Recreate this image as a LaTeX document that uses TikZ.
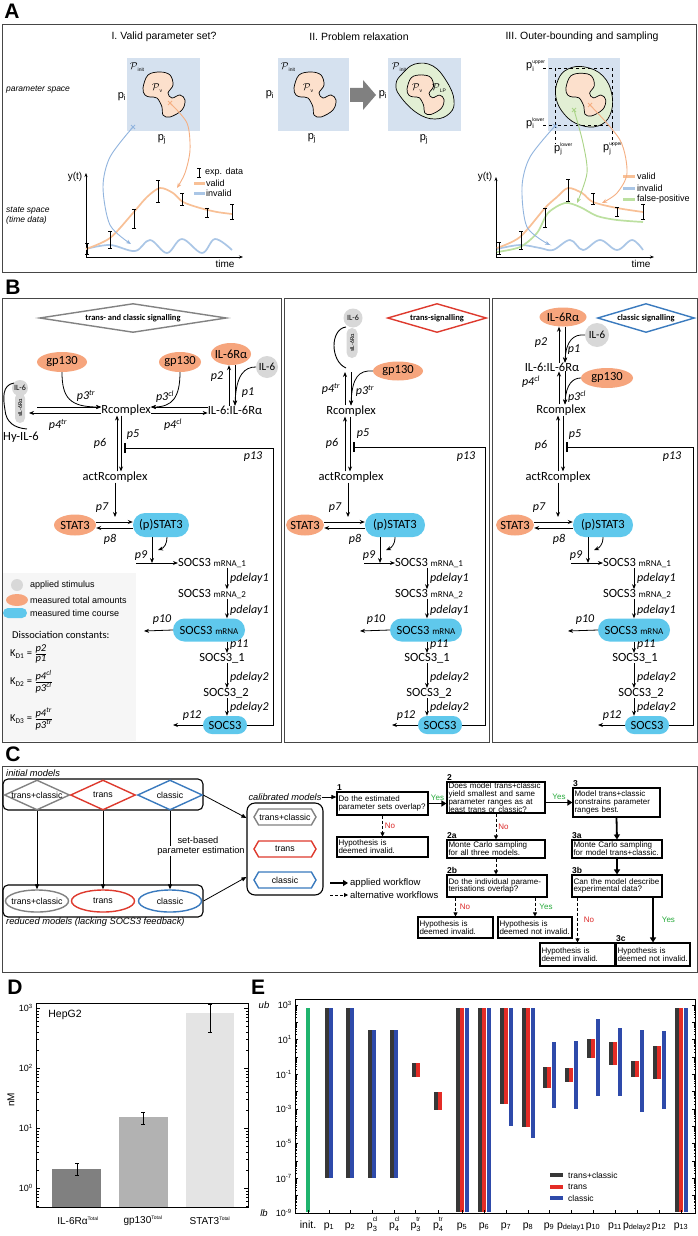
\documentclass[tikz,border=0pt]{standalone}
\usepackage{fontspec}
\setmainfont{Liberation Sans}
\newfontfamily\calib{Carlito}
\usetikzlibrary{arrows.meta,shapes.geometric,shapes.misc,shapes.symbols,calc}
\definecolor{pblue}{RGB}{213,225,239}
\definecolor{orfill}{RGB}{252,224,204}
\definecolor{grfill}{RGB}{226,239,212}
\definecolor{orline}{RGB}{248,192,150}
\definecolor{blline}{RGB}{170,198,230}
\definecolor{grline}{RGB}{188,224,160}
\definecolor{orarr}{RGB}{245,175,130}
\definecolor{blarr}{RGB}{145,180,222}
\definecolor{grarr}{RGB}{170,212,135}
\definecolor{orsp}{RGB}{246,165,125}
\definecolor{blsp}{RGB}{95,200,236}
\definecolor{grsp}{RGB}{216,216,216}
\definecolor{legbg}{RGB}{246,246,246}
\definecolor{dgray}{RGB}{130,130,130}
\definecolor{cred}{RGB}{222,58,46}
\definecolor{cblue}{RGB}{58,122,190}
\definecolor{eblack}{RGB}{55,55,55}
\definecolor{ered}{RGB}{228,44,38}
\definecolor{eblue}{RGB}{46,74,170}
\definecolor{egreen}{RGB}{32,180,110}
\definecolor{dbarA}{RGB}{128,128,128}
\definecolor{dbarB}{RGB}{178,178,178}
\definecolor{dbarC}{RGB}{228,228,228}
\definecolor{yesgreen}{RGB}{40,170,60}
\definecolor{nored}{RGB}{220,40,40}
\definecolor{framec}{RGB}{70,70,70}
\definecolor{bigarr}{RGB}{128,128,128}
\newcommand\Pset[1]{$\mathcal{P}$\raisebox{-1.3pt}{\fontsize{5}{5}\selectfont #1}}
\newcommand\pij[1]{$\mathrm{p}_{\mathrm{#1}}$}
\newcommand\pbd[2]{$\mathrm{p}$\rlap{\raisebox{5pt}{\fontsize{5}{5}\selectfont #2}}\raisebox{-2.5pt}{\fontsize{7}{7}\selectfont $\mathrm{#1}$}}
\newcommand\mrna[1]{{\fontsize{9}{9}\selectfont #1}}
\newcommand\psb[2]{p\rlap{\raisebox{6.5pt}{\fontsize{6.5}{6.5}\selectfont #1}}\raisebox{-3pt}{\fontsize{7.5}{7.5}\selectfont #2}}
\begin{document}
\begin{tikzpicture}[x=1pt,y=-1pt,
 every node/.style={inner sep=0pt},
 panlab/.style={font=\fontsize{21}{21}\selectfont\bfseries},
 frame/.style={draw=framec, line width=0.9pt},
 atitle/.style={font=\fontsize{10.5}{11}\selectfont},
 aital/.style={font=\itshape\fontsize{8.5}{10}\selectfont},
 asm/.style={font=\fontsize{9}{9}\selectfont},
 pnode/.style={font=\fontsize{11}{11}\selectfont},
 Pn/.style={font=\fontsize{10}{10}\selectfont},
 blob/.pic={\draw[fill=orfill, line width=0.7pt] plot[smooth cycle, tension=0.6] coordinates {(-17,-8) (-12,-21) (0,-24) (10,-21) (13,-11) (8,-3) (12,2) (20,-1) (25,4) (22,14) (10,21) (3,19) (2,11) (-3,2) (-10,1) (-15,-1)};},
 ebars/.style={line width=0.6pt},
 aarr/.style={line width=0.9pt, -{Stealth[length=5pt,width=4pt]}},
 axarr/.style={line width=0.6pt, -{Stealth[length=4pt,width=3pt]}},
 bf/.style={font=\calib\fontsize{12.5}{13}\selectfont},
 pl/.style={font=\calib\itshape\fontsize{12}{12}\selectfont},
 orsp/.style={ellipse, fill=orsp, inner xsep=-3pt, bf},
 blsp/.style={rounded rectangle, fill=blsp, bf},
 grsp/.style={circle, fill=grsp},
 ar/.style={-{Stealth[length=5pt,width=4pt]}, line width=0.8pt},
 inh/.style={-{Bar[width=10pt,line width=2.2pt]}, line width=0.8pt},
 dfont/.style={font=\calib\bfseries\fontsize{8.5}{9}\selectfont},
 lgt/.style={font=\fontsize{9}{9}\selectfont},
 cfont/.style={font=\fontsize{8.8}{9}\selectfont},
 cit/.style={font=\itshape\fontsize{9.3}{10}\selectfont},
 cdia/.style={diamond, line width=1.4pt, fill=white, aspect=2.2, minimum width=65pt, minimum height=30pt, cfont},
 cell/.style={ellipse, line width=1.4pt, fill=white, inner xsep=-6pt, minimum width=63pt, minimum height=22pt, cfont},
 hexa/.style={signal, signal to=west and east, signal pointer angle=120, line width=1.4pt, minimum width=62pt, minimum height=16pt, cfont},
 carr/.style={line width=0.8pt, -{Triangle[length=5pt,width=4pt]}},
 fb/.style={draw, line width=1.1pt, align=left, font=\fontsize{8}{7.8}\selectfont, inner xsep=1.5pt},
 num/.style={font=\bfseries\fontsize{8.5}{9}\selectfont, anchor=south west, inner sep=0.5pt},
 thk/.style={line width=1.8pt, -{Triangle[length=5pt,width=6pt]}},
 dsh/.style={line width=0.9pt, dash pattern=on 3pt off 2pt, -{Triangle[length=4pt,width=4pt]}},
 yes/.style={text=yesgreen, font=\fontsize{8}{8}\selectfont},
 no/.style={text=nored, font=\fontsize{8}{8}\selectfont},
 dtick/.style={font=\fontsize{9}{9}\selectfont},
 eb/.style={line width=4pt},
]
\useasboundingbox (0,0) rectangle (698,1236);
\fill[white] (0,0) rectangle (698,1236);

% ===== panel labels
\node[panlab] (labA) at (12,11) {A};
\node[panlab] (labB) at (13,287) {B};
\node[panlab] (labC) at (13,754) {C};
\node[panlab] (labD) at (15,987) {D};
\node[panlab] (labE) at (258,987) {E};

% ===== PANEL A
\draw[frame] (2,24) rectangle (696,272);
\node[atitle] (tI) at (164,37) {I. Valid parameter set?};
\node[atitle] (tII) at (359,37) {II. Problem relaxation};
\node[atitle] (tIII) at (582,37) {III. Outer-bounding and sampling};
\node[aital, anchor=west] (psp) at (6,90) {parameter space};
\node[aital, anchor=west, align=left] (ssp) at (6,216) {state space\\(time data)};

\fill[pblue] (127,58) rectangle (200,131);
\fill[pblue] (278,58) rectangle (349,131);
\fill[pblue] (388,58) rectangle (461,131);
\fill[pblue] (548,58) rectangle (620,131);

% I
\pic at (160,96) {blob};
\node[Pn] (PiI) at (137,67) {\Pset{init}};
\node[Pn] (PvI) at (157,88) {\Pset{v}};
\node[pnode] (piI) at (122,97) {\pij{i}};
\node[pnode] (pjI) at (162,139) {\pij{j}};
% II
\pic at (311,96) {blob};
\node[Pn] (PiII) at (288,67) {\Pset{init}};
\node[Pn] (PvII) at (308,88) {\Pset{v}};
\node[pnode] (piII) at (270,95) {\pij{i}};
\node[pnode] (pjII) at (312,138) {\pij{j}};
\fill[bigarr] (350,88) -- (363,88) -- (363,80) -- (376,95) -- (363,110) -- (363,102) -- (350,102) -- cycle;
\draw[fill=grfill, line width=0.7pt] plot[smooth cycle, tension=0.7] coordinates {(402,74) (415,64) (433,66) (447,82) (454,100) (450,113) (435,119) (417,113) (400,96) (396,84)};
\pic[scale=0.88] at (422,96) {blob};
\node[Pn] (PiIIb) at (399,67) {\Pset{init}};
\node[Pn] (PvIIb) at (417,88) {\Pset{v}};
\node[Pn] (PlpIIb) at (439,88) {\Pset{LP}};
\node[pnode] (piIIb) at (383,95) {\pij{i}};
\node[pnode] (pjIIb) at (424,139) {\pij{j}};
% III
\draw[fill=grfill, line width=0.7pt] plot[smooth cycle, tension=0.7] coordinates {(558,80) (568,69) (585,67) (603,76) (612,95) (610,115) (598,126) (580,125) (565,115) (556,98)};
\pic[scale=0.95] at (582,96) {blob};
\draw[dashed, line width=0.7pt] (555,68) rectangle (612,125);
\draw[dashed, line width=0.7pt] (543,68) -- (555,68) (543,125) -- (555,125) (555,125) -- (555,144) (612,125) -- (612,144);
\node[pnode] (puI) at (530,66) {\pbd{i}{upper}};
\node[pnode] (plI) at (530,123) {\pbd{i}{lower}};
\node[pnode] (plJ) at (558,149) {\pbd{j}{lower}};
\node[pnode] (puJ) at (607,149) {\pbd{j}{upper}};

% time plot I
\draw[axarr] (86,257) -- (86,173);
\draw[axarr] (86,257) -- (243,257);
\node[font=\fontsize{10}{10}\selectfont] (ytI) at (75,177) {y(t)};
\node[font=\fontsize{10}{10}\selectfont] (tmI) at (225,264) {time};
\draw[blline, line width=1.7pt] plot[smooth, tension=0.6] coordinates {(86,249) (110,245) (135,251) (150,240) (167,253) (182,239) (202,253) (215,239) (232,250)};
\draw[orline, line width=1.7pt] plot[smooth] coordinates {(86,249) (110,238) (133,213) (147,197) (160,188) (173,193) (183,202) (200,208) (217,212) (232,214)};
\foreach \x/\a/\b in {87/243/254,110/231/248,134/209/228,158/180/202,182/193/205,207/208/217,232/204/219}
 {\draw[ebars] (\x,\a) -- (\x,\b) (\x-2,\a) -- (\x+2,\a) (\x-2,\b) -- (\x+2,\b);}
\draw[ebars] (199,168) -- (199,177) (197,168) -- (201,168) (197,177) -- (201,177);
\node[asm, anchor=west] (lgI1) at (205,172) {exp. data};
\draw[orline, line width=3pt] (194,183) -- (205,183);
\node[asm, anchor=west] (lgI2) at (206,183) {valid};
\draw[blline, line width=3pt] (194,193) -- (205,193);
\node[asm, anchor=west] (lgI3) at (206,193) {invalid};
\draw[aarr, blarr] plot[smooth] coordinates {(133,127) (110,157) (103,187) (110,225) (131,244)};
\draw[aarr, orarr] plot[smooth] coordinates {(170,103) (187,123) (190,150) (185,173) (177,188)};
\draw[blarr, line width=0.9pt] (131,125) -- (135,129) (131,129) -- (135,125);
\draw[orarr, line width=0.9pt] (168,101) -- (172,105) (168,105) -- (172,101);

% time plot III
\draw[axarr] (496,257) -- (496,177);
\draw[axarr] (496,257) -- (654,257);
\node[font=\fontsize{10}{10}\selectfont] (ytIII) at (485,177) {y(t)};
\node[font=\fontsize{10}{10}\selectfont] (tmIII) at (641,264) {time};
\draw[blline, line width=1.7pt] plot[smooth, tension=0.6] coordinates {(497,249) (520,245) (540,248) (553,250) (570,240) (583,250) (600,240) (617,250) (632,240) (643,250)};
\draw[grline, line width=1.7pt] plot[smooth] coordinates {(497,252) (520,247) (537,233) (548,213) (565,203) (580,207) (597,216) (617,220) (643,222)};
\draw[orline, line width=1.7pt] plot[smooth] coordinates {(497,248) (520,237) (545,208) (557,197) (568,188) (582,193) (593,202) (617,208) (643,212)};
\foreach \x/\a/\b in {499/242/254,521/231/249,545/208/227,568/179/201,593/193/204,617/207/216,643/204/219}
 {\draw[ebars] (\x,\a) -- (\x,\b) (\x-2,\a) -- (\x+2,\a) (\x-2,\b) -- (\x+2,\b);}
\draw[orline, line width=3pt] (623,176) -- (635,176);
\node[asm, anchor=west] (lgIII1) at (637,176) {valid};
\draw[blline, line width=3pt] (623,188) -- (635,188);
\node[asm, anchor=west] (lgIII2) at (637,188) {invalid};
\draw[grline, line width=3pt] (623,199) -- (635,199);
\node[asm, anchor=west] (lgIII3) at (637,199) {false-positive};
\draw[aarr, blarr] plot[smooth] coordinates {(555,126) (530,157) (522,187) (527,227) (550,245)};
\draw[aarr, grarr] plot[smooth] coordinates {(574,110) (583,143) (587,173) (577,203)};
\draw[aarr, orarr] plot[smooth] coordinates {(590,105) (620,140) (627,173) (617,193) (602,203)};
\draw[blarr, line width=0.9pt] (553,124) -- (557,128) (553,128) -- (557,124);
\draw[grarr, line width=0.9pt] (572,108) -- (576,112) (572,112) -- (576,108);
\draw[orarr, line width=0.9pt] (588,103) -- (592,107) (588,107) -- (592,103);

% ===== PANEL B frames
\fill[legbg] (3,573) rectangle (136,741);
\draw[frame] (2,298) rectangle (281,742);
\draw[frame] (284,298) rectangle (489,742);
\draw[frame] (492,298) rectangle (697,742);

% ---- box 1
\node[diamond, draw=dgray, line width=1.4pt, aspect=6, minimum width=187pt, minimum height=29pt, dfont] (dg1) at (133,318) {trans- and classic signalling};
\node[orsp, minimum width=50pt, minimum height=20pt] (g1a) at (62,362) {gp130};
\node[orsp, minimum width=42pt, minimum height=20pt] (g1b) at (180,362) {gp130};
\node[orsp, minimum width=40pt, minimum height=22pt] (ra1) at (231,354) {IL-6Rα};
\node[grsp, minimum size=22pt, font=\calib\fontsize{11}{11}\selectfont] (il1) at (267,367) {IL-6};
\node[grsp, minimum size=16pt, font=\calib\fontsize{8}{8}\selectfont] (il1s) at (20,388) {IL-6};
\node[rounded rectangle, fill=grsp, rotate=90, minimum width=30pt, minimum height=10pt, font=\calib\fontsize{6}{6}\selectfont] (sil1) at (20,408) {sIL-6Rα};
\node[bf] (hy1) at (21,437) {Hy-IL-6};
\draw[line width=0.9pt] (14,383) .. controls (2,385) and (3,398) .. (5,410) .. controls (6,422) and (14,428) .. (27,429);
\node[bf] (R1) at (126,410) {Rcomplex};
\coordinate (hyR) at (37,410);
\coordinate (hyRb) at (29,410);
\draw[ar] ([yshift=3pt]hyR) -- ([yshift=3pt]R1.west);
\draw[ar] ([yshift=-3pt]R1.west) -- ([yshift=-3pt]hyRb);
\draw[ar] (g1a.south) .. controls (62,398) and (70,407) .. ([yshift=3pt]R1.west);
\node[bf] (C1) at (235,410) {IL-6:IL-6Rα};
\draw[ar] ([yshift=3pt]C1.west) -- ([yshift=3pt]R1.east);
\draw[ar] ([yshift=-3pt]R1.east) -- ([yshift=-3pt]C1.west);
\draw[ar] (g1b.south) .. controls (180,398) and (172,407) .. ([yshift=3pt]R1.east);
\coordinate (x2a) at (229,0); \coordinate (x1a) at (235,0);
\draw[ar] (C1.north -| x2a) -- (ra1.south -| x2a);
\draw[ar] (ra1.south -| x1a) -- (C1.north -| x1a);
\draw[ar] (il1.west) .. controls (245,367) and (236,374) .. (C1.north -| x1a);
\node[pl] (lp2a) at (217,377) {p2};
\node[pl] (lp1a) at (248,393) {p1};
\node[pl] (lp3ta) at (86,396) {p3\textsuperscript{tr}};
\node[pl] (lp4ta) at (58,425) {p4\textsuperscript{tr}};
\node[pl] (lp3ca) at (165,397) {p3\textsuperscript{cl}};
\node[pl] (lp4ca) at (173,425) {p4\textsuperscript{cl}};
\node[bf] (A1) at (115,477) {actRcomplex};
\coordinate (x6a) at (117,0); \coordinate (x5a) at (121,0);
\draw[ar] (A1.north -| x6a) -- (R1.south -| x6a);
\draw[ar] (R1.south -| x5a) -- (A1.north -| x5a);
\node[pl] (lp6a) at (100,443) {p6};
\node[pl] (lp5a) at (133,435) {p5};
\node[pl] (lp13a) at (253,457) {p13};
\coordinate (j7a) at (115,517);
\draw[ar] (A1.south) -- (j7a);
\node[orsp, minimum width=42pt, minimum height=21pt] (st1) at (75,525) {STAT3};
\node[blsp, minimum width=56pt, minimum height=24pt] (ps1) at (161,525) {(p)STAT3};
\draw[ar] ([yshift=3pt]st1.east) -- ([yshift=3pt]ps1.west);
\draw[ar] ([yshift=-3pt]ps1.west) -- ([yshift=-3pt]st1.east);
\node[pl] (lp7a) at (102,508) {p7};
\node[pl] (lp8a) at (110,539) {p8};
\coordinate (c9a) at (152,563);
\draw[ar] (ps1.south -| c9a) -- (c9a);
\coordinate (c9b) at (158,550);
\draw[ar] ([xshift=6pt]ps1.south) .. controls (167,544) and (164,548) .. (c9b);
\node[bf] (m1a) at (212,563) {SOCS3 \mrna{mRNA\_1}};
\coordinate (c9l) at (136,563);
\draw[ar] (c9l) -- (m1a.west);
\node[pl] (lp9a) at (141,556) {p9};
\coordinate (xca) at (227,0);
\node[bf] (m2a) at (212,594) {SOCS3 \mrna{mRNA\_2}};
\node[blsp, minimum width=72pt, minimum height=23pt] (mba) at (209,630) {SOCS3 \mrna{mRNA}};
\node[bf] (s31a) at (222,658) {SOCS3\_1};
\node[bf] (s32a) at (226,693) {SOCS3\_2};
\node[blsp, minimum width=44pt, minimum height=18pt] (s3a) at (225,725) {SOCS3};
\draw[ar] (m1a.south -| xca) -- (m2a.north -| xca);
\draw[ar] (m2a.south -| xca) -- (mba.north -| xca);
\draw[ar] (mba.south -| xca) -- (s31a.north -| xca);
\draw[ar] (s31a.south -| xca) -- (s32a.north -| xca);
\draw[ar] (s32a.south -| xca) -- (s3a.north -| xca);
\node[pl, anchor=west] (ld1a) at (230,578) {pdelay1};
\node[pl, anchor=west] (ld2a) at (230,610) {pdelay1};
\node[pl, anchor=west] (lp11a) at (230,645) {p11};
\node[pl, anchor=west] (ld3a) at (230,677) {pdelay2};
\node[pl, anchor=west] (ld4a) at (230,707) {pdelay2};
\coordinate (e10a) at (144,631);
\draw[ar] (mba.west) -- (e10a);
\node[pl] (lp10a) at (162,620) {p10};
\coordinate (e12a) at (173,725);
\draw[ar] (s3a.west) -- (e12a);
\node[pl] (lp12a) at (192,716) {p12};
\coordinate (inh1) at (124,448); \coordinate (fb1) at (273,448);
\draw[inh] (s3a.east) -| (fb1) -- (inh1);
% legend
\node[grsp, minimum size=12pt] (lg1) at (17,585) {};
\node[ellipse, fill=orsp, minimum width=22pt, minimum height=12pt] (lg2) at (17,600) {};
\node[rounded rectangle, fill=blsp, minimum width=24pt, minimum height=10pt] (lg3) at (15,613) {};
\node[lgt, anchor=west] (lgt1) at (30,585) {applied stimulus};
\node[lgt, anchor=west] (lgt2) at (30,600) {measured total amounts};
\node[lgt, anchor=west] (lgt3) at (30,613) {measured time course};
\node[anchor=west, font=\calib\fontsize{10.5}{11}\selectfont] (dcons) at (12,635) {Dissociation constants:};
\node[anchor=west, font=\calib\fontsize{10.5}{11}\selectfont] (kd1) at (10,654) {K\textsubscript{D1} = $\frac{\textit{p2}}{\textit{p1}}$};
\node[anchor=west, font=\calib\fontsize{10.5}{11}\selectfont] (kd2) at (10,682) {K\textsubscript{D2} = $\frac{\textit{p4\textsuperscript{cl}}}{\textit{p3\textsuperscript{cl}}}$};
\node[anchor=west, font=\calib\fontsize{10.5}{11}\selectfont] (kd3) at (10,719) {K\textsubscript{D3} = $\frac{\textit{p4\textsuperscript{tr}}}{\textit{p3\textsuperscript{tr}}}$};

% ---- box 2
\node[diamond, draw=cred, line width=1.4pt, aspect=3.5, minimum width=99pt, minimum height=29pt, dfont] (dg2) at (437,318) {trans-signalling};
\node[grsp, minimum size=19pt, font=\calib\fontsize{8}{8}\selectfont] (il2) at (353,318) {IL-6};
\node[rounded rectangle, fill=grsp, rotate=90, minimum width=30pt, minimum height=11pt, font=\calib\fontsize{6}{6}\selectfont] (sil2) at (352,343) {sIL-6Rα};
\draw[line width=0.9pt] (346,327) .. controls (330,329) and (330,361) .. (346,368);
\node[orsp, minimum width=50pt, minimum height=19pt] (g2) at (398,371) {gp130};
\node[bf] (R2) at (351,411) {Rcomplex};
\coordinate (t2) at (345,372);
\coordinate (x4b) at (345,0); \coordinate (x3b) at (351,0);
\draw[ar] (R2.north -| x4b) -- (t2);
\draw[ar] (t2 -| x3b) -- (R2.north -| x3b);
\draw[ar] (g2.west) .. controls (359,370) and (352,377) .. (R2.north -| x3b);
\node[pl] (lp4tb) at (331,389) {p4\textsuperscript{tr}};
\node[pl] (lp3tb) at (365,391) {p3\textsuperscript{tr}};
\node[bf] (A2) at (351,477) {actRcomplex};
\coordinate (x6b) at (345,0); \coordinate (x5b) at (350,0);
\draw[ar] (A2.north -| x6b) -- (R2.south -| x6b);
\draw[ar] (R2.south -| x5b) -- (A2.north -| x5b);
\node[pl] (lp6b) at (332,443) {p6};
\node[pl] (lp5b) at (363,434) {p5};
\node[pl] (lp13b) at (466,457) {p13};
\coordinate (j7b) at (348,517);
\draw[ar] (A2.south -| j7b) -- (j7b);
\node[orsp, minimum width=38pt, minimum height=21pt] (st2) at (305,525) {STAT3};
\node[blsp, minimum width=60pt, minimum height=24pt] (ps2) at (395,525) {(p)STAT3};
\draw[ar] ([yshift=3pt]st2.east) -- ([yshift=3pt]ps2.west);
\draw[ar] ([yshift=-3pt]ps2.west) -- ([yshift=-3pt]st2.east);
\node[pl] (lp7b) at (335,508) {p7};
\node[pl] (lp8b) at (355,539) {p8};
\coordinate (c9ab) at (380,563);
\draw[ar] (ps2.south -| c9ab) -- (c9ab);
\coordinate (c9bb) at (386,550);
\draw[ar] (ps2.south) .. controls (395,545) and (391,548) .. (c9bb);
\node[bf] (m1b) at (429,563) {SOCS3 \mrna{mRNA\_1}};
\coordinate (c9lb) at (364,563);
\draw[ar] (c9lb) -- (m1b.west);
\node[pl] (lp9b) at (369,556) {p9};
\coordinate (xcb) at (427,0);
\node[bf] (m2b) at (429,594) {SOCS3 \mrna{mRNA\_2}};
\node[blsp, minimum width=72pt, minimum height=23pt] (mbb) at (426,630) {SOCS3 \mrna{mRNA}};
\node[bf] (s31b) at (427,658) {SOCS3\_1};
\node[bf] (s32b) at (429,693) {SOCS3\_2};
\node[blsp, minimum width=44pt, minimum height=18pt] (s3b) at (440,725) {SOCS3};
\draw[ar] (m1b.south -| xcb) -- (m2b.north -| xcb);
\draw[ar] (m2b.south -| xcb) -- (mbb.north -| xcb);
\draw[ar] (mbb.south -| xcb) -- (s31b.north -| xcb);
\draw[ar] (s31b.south -| xcb) -- (s32b.north -| xcb);
\draw[ar] (s32b.south -| xcb) -- (s3b.north -| xcb);
\node[pl, anchor=west] (ld1b) at (430,578) {pdelay1};
\node[pl, anchor=west] (ld2b) at (430,610) {pdelay1};
\node[pl, anchor=west] (lp11b) at (430,645) {p11};
\node[pl, anchor=west] (ld3b) at (430,677) {pdelay2};
\node[pl, anchor=west] (ld4b) at (430,707) {pdelay2};
\coordinate (e10b) at (360,631);
\draw[ar] (mbb.west) -- (e10b);
\node[pl] (lp10b) at (376,620) {p10};
\coordinate (e12b) at (392,725);
\draw[ar] (s3b.west) -- (e12b);
\node[pl] (lp12b) at (406,716) {p12};
\coordinate (inh2) at (353,447); \coordinate (fb2) at (485,447);
\draw[inh] (s3b.east) -| (fb2) -- (inh2);

% ---- box 3
\node[diamond, draw=cblue, line width=1.4pt, aspect=3.5, minimum width=97pt, minimum height=29pt, dfont] (dg3) at (646,318) {classic signalling};
\node[orsp, minimum width=47pt, minimum height=19pt] (ra3) at (563,317) {IL-6Rα};
\node[grsp, minimum size=24pt, font=\calib\fontsize{11}{11}\selectfont] (il3) at (597,335) {IL-6};
\node[bf] (C3) at (552,367) {IL-6:IL-6Rα};
\coordinate (x2c) at (559,0); \coordinate (x1c) at (565,0);
\draw[ar] (C3.north -| x2c) -- (ra3.south -| x2c);
\draw[ar] (ra3.south -| x1c) -- (C3.north -| x1c);
\draw[ar] (il3.west) .. controls (574,334) and (566,340) .. (C3.north -| x1c);
\node[pl] (lp2c) at (541,343) {p2};
\node[pl] (lp1c) at (574,350) {p1};
\node[orsp, minimum width=52pt, minimum height=20pt] (g3) at (607,378) {gp130};
\node[bf] (R3) at (561,410) {Rcomplex};
\draw[ar] (R3.north -| x2c) -- (C3.south -| x2c);
\draw[ar] (C3.south -| x1c) -- (R3.north -| x1c);
\draw[ar] (g3.west) .. controls (573,378) and (566,384) .. (R3.north -| x1c);
\node[pl] (lp4cc) at (531,382) {p4\textsuperscript{cl}};
\node[pl] (lp3cc) at (577,397) {p3\textsuperscript{cl}};
\node[bf] (A3) at (558,477) {actRcomplex};
\coordinate (x6c) at (558,0); \coordinate (x5c) at (563,0);
\draw[ar] (A3.north -| x6c) -- (R3.south -| x6c);
\draw[ar] (R3.south -| x5c) -- (A3.north -| x5c);
\node[pl] (lp6c) at (541,445) {p6};
\node[pl] (lp5c) at (575,435) {p5};
\node[pl] (lp13c) at (672,457) {p13};
\coordinate (j7c) at (558,517);
\draw[ar] (A3.south -| j7c) -- (j7c);
\node[orsp, minimum width=38pt, minimum height=21pt] (st3) at (515,525) {STAT3};
\node[blsp, minimum width=60pt, minimum height=24pt] (ps3) at (603,525) {(p)STAT3};
\draw[ar] ([yshift=3pt]st3.east) -- ([yshift=3pt]ps3.west);
\draw[ar] ([yshift=-3pt]ps3.west) -- ([yshift=-3pt]st3.east);
\node[pl] (lp7c) at (539,508) {p7};
\node[pl] (lp8c) at (559,539) {p8};
\coordinate (c9ac) at (588,563);
\draw[ar] (ps3.south -| c9ac) -- (c9ac);
\coordinate (c9bc) at (594,550);
\draw[ar] (ps3.south) .. controls (603,545) and (599,548) .. (c9bc);
\node[bf] (m1c) at (637,563) {SOCS3 \mrna{mRNA\_1}};
\coordinate (c9lc) at (571,563);
\draw[ar] (c9lc) -- (m1c.west);
\node[pl] (lp9c) at (576,556) {p9};
\coordinate (xcc) at (634,0);
\node[bf] (m2c) at (637,594) {SOCS3 \mrna{mRNA\_2}};
\node[blsp, minimum width=72pt, minimum height=23pt] (mbc) at (634,630) {SOCS3 \mrna{mRNA}};
\node[bf] (s31c) at (635,658) {SOCS3\_1};
\node[bf] (s32c) at (641,693) {SOCS3\_2};
\node[blsp, minimum width=44pt, minimum height=18pt] (s3c) at (647,725) {SOCS3};
\draw[ar] (m1c.south -| xcc) -- (m2c.north -| xcc);
\draw[ar] (m2c.south -| xcc) -- (mbc.north -| xcc);
\draw[ar] (mbc.south -| xcc) -- (s31c.north -| xcc);
\draw[ar] (s31c.south -| xcc) -- (s32c.north -| xcc);
\draw[ar] (s32c.south -| xcc) -- (s3c.north -| xcc);
\node[pl, anchor=west] (ld1c) at (637,578) {pdelay1};
\node[pl, anchor=west] (ld2c) at (637,610) {pdelay1};
\node[pl, anchor=west] (lp11c) at (637,645) {p11};
\node[pl, anchor=west] (ld3c) at (637,677) {pdelay2};
\node[pl, anchor=west] (ld4c) at (637,707) {pdelay2};
\coordinate (e10c) at (568,631);
\draw[ar] (mbc.west) -- (e10c);
\node[pl] (lp10c) at (585,620) {p10};
\coordinate (e12c) at (598,725);
\draw[ar] (s3c.west) -- (e12c);
\node[pl] (lp12c) at (612,716) {p12};
\coordinate (inh3) at (566,447); \coordinate (fb3) at (693,447);
\draw[inh] (s3c.east) -| (fb3) -- (inh3);

% ===== PANEL C
\draw[frame] (2,766) rectangle (697,972);
\node[cit, anchor=west] (lim) at (6,773) {initial models};
\node[draw, line width=1.1pt, rounded corners=5pt, minimum width=200pt, minimum height=31pt] (imbox) at (103,794.5) {};
\node[draw, line width=1.1pt, rounded corners=5pt, minimum width=200pt, minimum height=32pt] (rmbox) at (103,901) {};
\node[cdia, draw=dgray] (dTC) at (37,795) {trans+classic};
\node[cdia, draw=cred] (dT) at (103,795) {trans};
\node[cdia, draw=cblue] (dC) at (170,795) {classic};
\node[cell, draw=dgray] (eTC) at (37,901) {trans+classic};
\node[cell, draw=cred] (eT) at (103,901) {trans};
\node[cell, draw=cblue] (eC) at (170,901) {classic};
\draw[carr] (dTC.south) -- (eTC.north);
\draw[carr] (dT.south) -- (eT.north);
\draw[carr] (dC.south) -- (eC.north);
\node[font=\fontsize{9.3}{10}\selectfont] (sb1) at (198,840) {set-based};
\node[font=\fontsize{9.3}{10}\selectfont, fill=white, inner ysep=1pt] (sb2) at (201,851) {parameter estimation};
\node[cit, anchor=west] (lrm) at (6,922) {reduced models (lacking SOCS3 feedback)};
\node[cit] (lcal) at (285,797) {calibrated models};
\node[draw, line width=1.1pt, rounded corners=8pt, minimum width=76pt, minimum height=92pt] (cal) at (285,849) {};
\node[hexa, draw=dgray] (hTC) at (285,817) {trans+classic};
\node[hexa, draw=cred] (hT) at (285,849) {trans};
\node[hexa, draw=cblue] (hC) at (285,880) {classic};
\draw[carr] (dC.east) -- ([yshift=31pt]cal.west);
\draw[carr] (rmbox.east) -- ([yshift=-28pt]cal.west);
% flowchart
\node[fb, text width=88pt, minimum height=23pt] (b1) at (382.5,803.5) {Do the estimated\\parameter sets overlap?};
\node[fb, text width=88pt, minimum height=20pt] (b1n) at (382.5,847) {Hypothesis is\\deemed invalid.};
\node[fb, text width=95pt, minimum height=31pt] (b2) at (496,797.5) {Does model trans+classic\\yield smallest and same\\parameter ranges as at\\least trans or classic?};
\node[fb, text width=95pt, minimum height=18pt] (b2a) at (496,849) {Monte Carlo sampling\\for all three models.};
\node[fb, text width=97pt, minimum height=22pt] (b2b) at (497,886) {Do the individual parame-\\terisations overlap?};
\node[fb, text width=84pt, minimum height=29pt] (b3) at (616.5,802.5) {Model trans+classic\\constrains parameter\\ranges best.};
\node[fb, text width=87pt, minimum height=18pt] (b3a) at (617,849) {Monte Carlo sampling\\for model trans+classic.};
\node[fb, text width=87pt, minimum height=22pt] (b3b) at (617,886) {Can the model describe\\experimental data?};
\node[fb, text width=72pt, minimum height=21pt] (b2bn) at (455.5,927.5) {Hypothesis is\\deemed invalid.};
\node[fb, text width=71pt, minimum height=21pt] (b2by) at (535,927.5) {Hypothesis is\\deemed not invalid.};
\node[fb, text width=72pt, minimum height=23pt] (b3bn) at (577.5,954.5) {Hypothesis is\\deemed invalid.};
\node[fb, text width=71pt, minimum height=23pt] (b3c) at (653,954.5) {Hypothesis is\\deemed not invalid.};
\node[num] (n1) at (b1.north west) {1};
\node[num] (n2) at (b2.north west) {2};
\node[num] (n3) at (b3.north west) {3};
\node[num] (n2a) at (b2a.north west) {2a};
\node[num] (n2b) at (b2b.north west) {2b};
\node[num] (n3a) at (b3a.north west) {3a};
\node[num] (n3b) at (b3b.north west) {3b};
\node[num] (n3c) at (b3c.north west) {3c};
\coordinate (b2e) at ([yshift=-5pt]b2.east);
\draw[carr] (lcal.east) -- (b1.west |- lcal.east);
\draw[thk] (b1.east) -- (b2.west |- b1.east) node[midway, above=2pt, yes] {Yes};
\draw[thk] (b2e) -- (b3.west |- b2e) node[midway, above=2pt, yes] {Yes};
\draw[dsh] (b1.south) -- (b1n.north) node[midway, right=2pt, no] {No};
\draw[dsh] (b2.south) -- (b2a.north) node[midway, right=2pt, no] {No};
\draw[dsh] (b2a.south) -- (b2b.north -| b2a.south);
\draw[thk] (b3.south) -- (b3a.north);
\draw[thk] (b3a.south) -- (b3b.north);
\draw[dsh] (b2b.south -| b2bn.north) -- (b2bn.north) node[midway, right=4pt, no] {No};
\draw[dsh] (b2b.south -| b2by.north) -- (b2by.north) node[midway, right=4pt, yes] {Yes};
\draw[dsh] (b3b.south -| b3bn.north) -- (b3bn.north) node[midway, right=6pt, no] {No};
\draw[thk] (b3b.south -| b3c.north) -- (b3c.north) node[midway, right=8pt, yes] {Yes};
\coordinate (lw1a) at (330,883); \coordinate (lw1b) at (348,883);
\coordinate (lw2a) at (330,895); \coordinate (lw2b) at (348,895);
\draw[thk] (lw1a) -- (lw1b);
\draw[dsh] (lw2a) -- (lw2b);
\node[anchor=west, font=\fontsize{9.5}{10}\selectfont] (lwt1) at (350,883) {applied workflow};
\node[anchor=west, font=\fontsize{9.5}{10}\selectfont] (lwt2) at (350,895) {alternative workflows};

% ===== PANEL D
\fill[dbarA] (52,1169) rectangle (101,1207);
\fill[dbarB] (119,1117) rectangle (168,1207);
\fill[dbarC] (186,1013) rectangle (234,1207);
\draw[line width=0.8pt] (36,1003) rectangle (248,1207);
\foreach \x/\a/\b in {77/1163/1175,143/1112/1124,210/1004/1032}
 {\draw[line width=0.7pt] (\x,\a) -- (\x,\b) (\x-2,\a) -- (\x+2,\a) (\x-2,\b) -- (\x+2,\b);}
\foreach \e in {0,1,2} {\foreach \k in {2,...,9} {\pgfmathsetmacro\yy{1188-60*(\e+log10(\k))}
  \draw[line width=0.4pt] (36,\yy) -- (38.5,\yy) (248,\yy) -- (245.5,\yy);}}
\foreach \k in {5,...,9} {\pgfmathsetmacro\yy{1248-60*log10(\k)}
  \draw[line width=0.4pt] (36,\yy) -- (38.5,\yy) (248,\yy) -- (245.5,\yy);}
\foreach \e in {0,...,3} {\pgfmathsetmacro\yy{1188-60*\e}
  \draw[line width=0.5pt] (36,\yy) -- (40,\yy) (248,\yy) -- (244,\yy);
  \node[dtick, anchor=east] (dt\e) at (33,\yy) {10\textsuperscript{\e}};}
\node[rotate=90, font=\fontsize{10}{10}\selectfont] (nM) at (11,1100) {nM};
\node[font=\fontsize{10.5}{11}\selectfont] (hep) at (65,1015) {HepG2};
\node[font=\fontsize{10}{10}\selectfont] (dx1) at (78,1221) {IL-6Rα\textsuperscript{\fontsize{5}{5}\selectfont Total}};
\node[font=\fontsize{10}{10}\selectfont] (dx2) at (143,1221) {gp130\textsuperscript{\fontsize{5}{5}\selectfont Total}};
\node[font=\fontsize{10}{10}\selectfont] (dx3) at (210,1221) {STAT3\textsuperscript{\fontsize{5}{5}\selectfont Total}};

% ===== PANEL E
\draw[eb, egreen] (308,1008) -- (308,1212);
\foreach \x/\a/\b/\c in {327/1008/1178/eblack,331/1008/1178/eblue,348/1008/1178/eblack,352/1008/1178/eblue,
 370/1030/1178/eblack,374/1030/1178/eblue,392/1030/1178/eblack,396/1030/1178/eblue,
 413.5/1063/1077/eblack,417.5/1063/1077/ered,436/1092/1110/eblack,440/1092/1110/ered,
 457.5/1008/1212/eblack,462/1008/1212/ered,466.5/1008/1212/eblue,
 479.5/1008/1212/eblack,484/1008/1212/ered,488.5/1008/1212/eblue,
 501.5/1008/1104/eblack,506/1008/1104/ered,510.5/1008/1126/eblue,
 523.5/1008/1127/eblack,528/1008/1127/ered,532.5/1008/1138/eblue,
 544.5/1067/1088/eblack,549/1067/1088/ered,553.5/1042/1108/eblue,
 566.5/1068/1082/eblack,571/1068/1082/ered,575.5/1041/1109/eblue,
 588.5/1039/1058/eblack,593/1039/1058/ered,597.5/1019/1096/eblue,
 610.5/1042/1065/eblack,615/1042/1065/ered,619.5/1028/1096/eblue,
 632.5/1061/1077/eblack,637/1061/1077/ered,641.5/1030/1112/eblue,
 654.5/1046/1079/eblack,659/1046/1079/ered,663.5/1031/1109/eblue,
 676.5/1008/1212/eblack,681/1008/1212/ered,685.5/1008/1212/eblue}
 {\draw[eb, \c] (\x,\a) -- (\x,\b);}
\draw[line width=0.8pt] (295,999) rectangle (695,1213);
\foreach \e in {-9,...,3} {\pgfmathsetmacro\yy{1005-17.333*(\e-3)}
  \draw[line width=0.5pt] (295,\yy) -- (298,\yy) (695,\yy) -- (692,\yy);}
\foreach \e in {-9,...,2} {\foreach \k in {2,...,9} {\pgfmathsetmacro\yy{1005-17.333*(\e-3+log10(\k))}
  \draw[line width=0.3pt] (295,\yy) -- (296.5,\yy) (695,\yy) -- (693.5,\yy);}}
\foreach \e in {3,1,-1,-3,-5,-7,-9} {\pgfmathsetmacro\yy{1005-17.333*(\e-3)}
  \node[dtick, anchor=east] (et\e) at (292,\yy) {10\textsuperscript{\e}};}
\node[font=\itshape\fontsize{9.5}{10}\selectfont] (ub) at (264,1005) {ub};
\node[font=\itshape\fontsize{9.5}{10}\selectfont] (lb) at (264,1213) {lb};
\foreach \x in {308,329,350,372,394,415.5,438,462,484,506,528,549,571,593,615,637,659,681}
  {\draw[line width=0.5pt] (\x,1213) -- (\x,1210);}
\foreach \x/\t [count=\i] in {308/init.,329/p\textsubscript{1},350/p\textsubscript{2},372/\psb{cl}{3},394/\psb{cl}{4},415.5/\psb{tr}{3},438/\psb{tr}{4},462/p\textsubscript{5},484/p\textsubscript{6},506/p\textsubscript{7},528/p\textsubscript{8},549/p\textsubscript{9},571/p\textsubscript{delay1},593/p\textsubscript{10},615/p\textsubscript{11},637/p\textsubscript{delay2},659/p\textsubscript{12},681/p\textsubscript{13}}
  {\node[font=\fontsize{10.5}{11}\selectfont, anchor=base] (ex\i) at (\x,1228) {\t};}
\draw[eb, eblack] (550,1175) -- (563,1175);
\draw[eb, ered] (550,1187) -- (563,1187);
\draw[eb, eblue] (550,1198) -- (563,1198);
\node[anchor=west, font=\fontsize{8.5}{9}\selectfont] (el1) at (568,1175) {trans+classic};
\node[anchor=west, font=\fontsize{8.5}{9}\selectfont] (el2) at (568,1187) {trans};
\node[anchor=west, font=\fontsize{8.5}{9}\selectfont] (el3) at (568,1198) {classic};
\end{tikzpicture}
\end{document}
